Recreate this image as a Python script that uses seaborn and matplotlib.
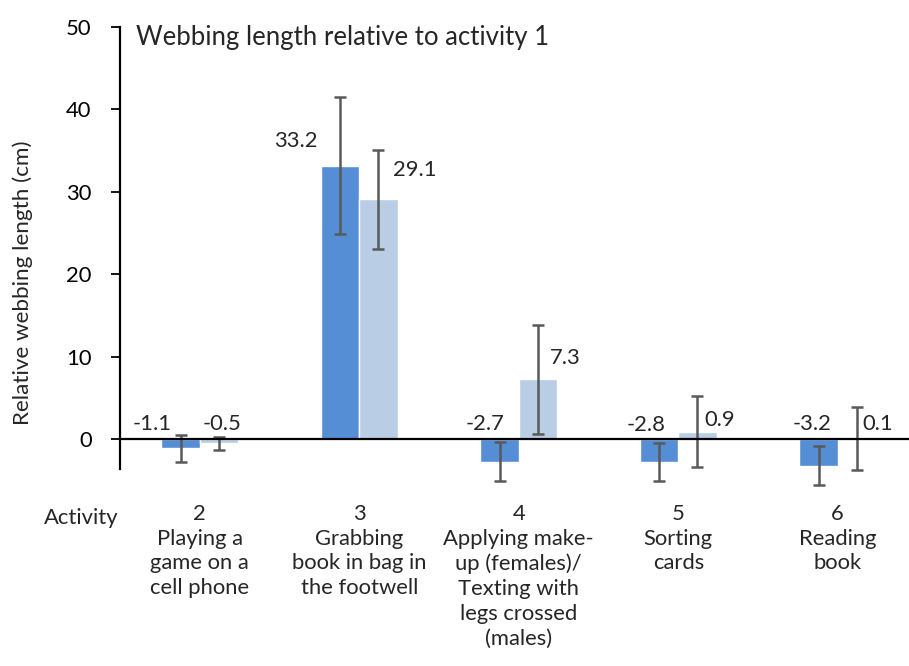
import numpy as np
import pandas as pd
import matplotlib
matplotlib.use("Agg")
import matplotlib.pyplot as plt
import seaborn as sns

# data
activities = ["2\nPlaying a\ngame on a\ncell phone",
              "3\nGrabbing\nbook in bag in\nthe footwell",
              "4\nApplying make-\nup (females)/\nTexting with\nlegs crossed\n(males)",
              "5\nSorting\ncards",
              "6\nReading\nbook"]
series_a = [-1.1, 33.2, -2.7, -2.8, -3.2]
series_b = [-0.5, 29.1, 7.3, 0.9, 0.1]
err_a = [1.6, 8.3, 2.4, 2.3, 2.4]
err_b = [0.8, 6.0, 6.6, 4.3, 3.8]

# label placement (offset from category centre, height)
lab_dx_a = [-0.30, -0.40, -0.21, -0.20, -0.16]
lab_y_a = [1.9, 36.2, 1.8, 1.7, 1.8]
lab_dx_b = [0.14, 0.35, 0.29, 0.26, 0.25]
lab_y_b = [1.9, 32.6, 9.8, 2.3, 1.8]

df = pd.DataFrame({
    "activity": activities * 2,
    "group": ["a"] * 5 + ["b"] * 5,
    "value": series_a + series_b,
})

sns.set_style("white")
plt.rcParams["font.family"] = ["Lato", "DejaVu Sans"]
fs = 15.8

fig = plt.figure(figsize=(9.09, 6.66), dpi=100)
ax = fig.add_axes([120 / 909, 1 - 469 / 666, 797.5 / 909, (469 - 27) / 666])

dark = "#558ed5"
light = "#b9cde5"
sns.barplot(data=df, x="activity", y="value", hue="group", palette=[dark, light],
            width=0.48, errorbar=None, legend=False, ax=ax, saturation=1)

# error bars on the bars seaborn drew
for cont, errs in zip(ax.containers, [err_a, err_b]):
    xs = [p.get_x() + p.get_width() / 2 for p in cont.patches]
    hs = [p.get_height() for p in cont.patches]
    eb = ax.errorbar(xs, hs, yerr=errs, fmt="none", ecolor="#595959",
                     elinewidth=1.8, capsize=4, capthick=1.8, zorder=3)
    for art in eb.lines[1] + eb.lines[2]:
        art.set_clip_on(False)

for i in range(5):
    ax.text(i + lab_dx_a[i], lab_y_a[i], f"{series_a[i]:.1f}",
            ha="center", va="center", fontsize=fs)
    ax.text(i + lab_dx_b[i], lab_y_b[i], f"{series_b[i]:.1f}",
            ha="center", va="center", fontsize=fs)

ax.axhline(0, color="black", lw=1.6, zorder=4)
ax.set_xlim(-0.5, 4.5)
ax.set_ylim(-3.6, 50)
ax.set_yticks([0, 10, 20, 30, 40, 50])
ax.tick_params(axis="y", left=True, length=6.5, width=1.3, labelsize=fs, pad=14, colors="black")
ax.tick_params(axis="x", bottom=False, length=0, labelsize=fs, pad=25)
for lab in ax.get_xticklabels():
    lab.set_linespacing(1.3)
    lab.set_va("top")

for s in ["top", "right", "bottom"]:
    ax.spines[s].set_visible(False)
ax.spines["left"].set_color("black")
ax.spines["left"].set_linewidth(1.6)

ax.set_xlabel("")
ax.set_ylabel("")
fig.text(23 / 909, 1 - 283 / 666, "Relative webbing length (cm)", rotation=90,
         ha="center", va="center", fontsize=16.2)
fig.text(81 / 909, 1 - 518 / 666, "Activity", ha="center", va="center", fontsize=fs)
ax.text(-0.40, 48.7, "Webbing length relative to activity 1", ha="left", va="center",
        fontsize=18.5)

fig.savefig("out.png", dpi=100)
